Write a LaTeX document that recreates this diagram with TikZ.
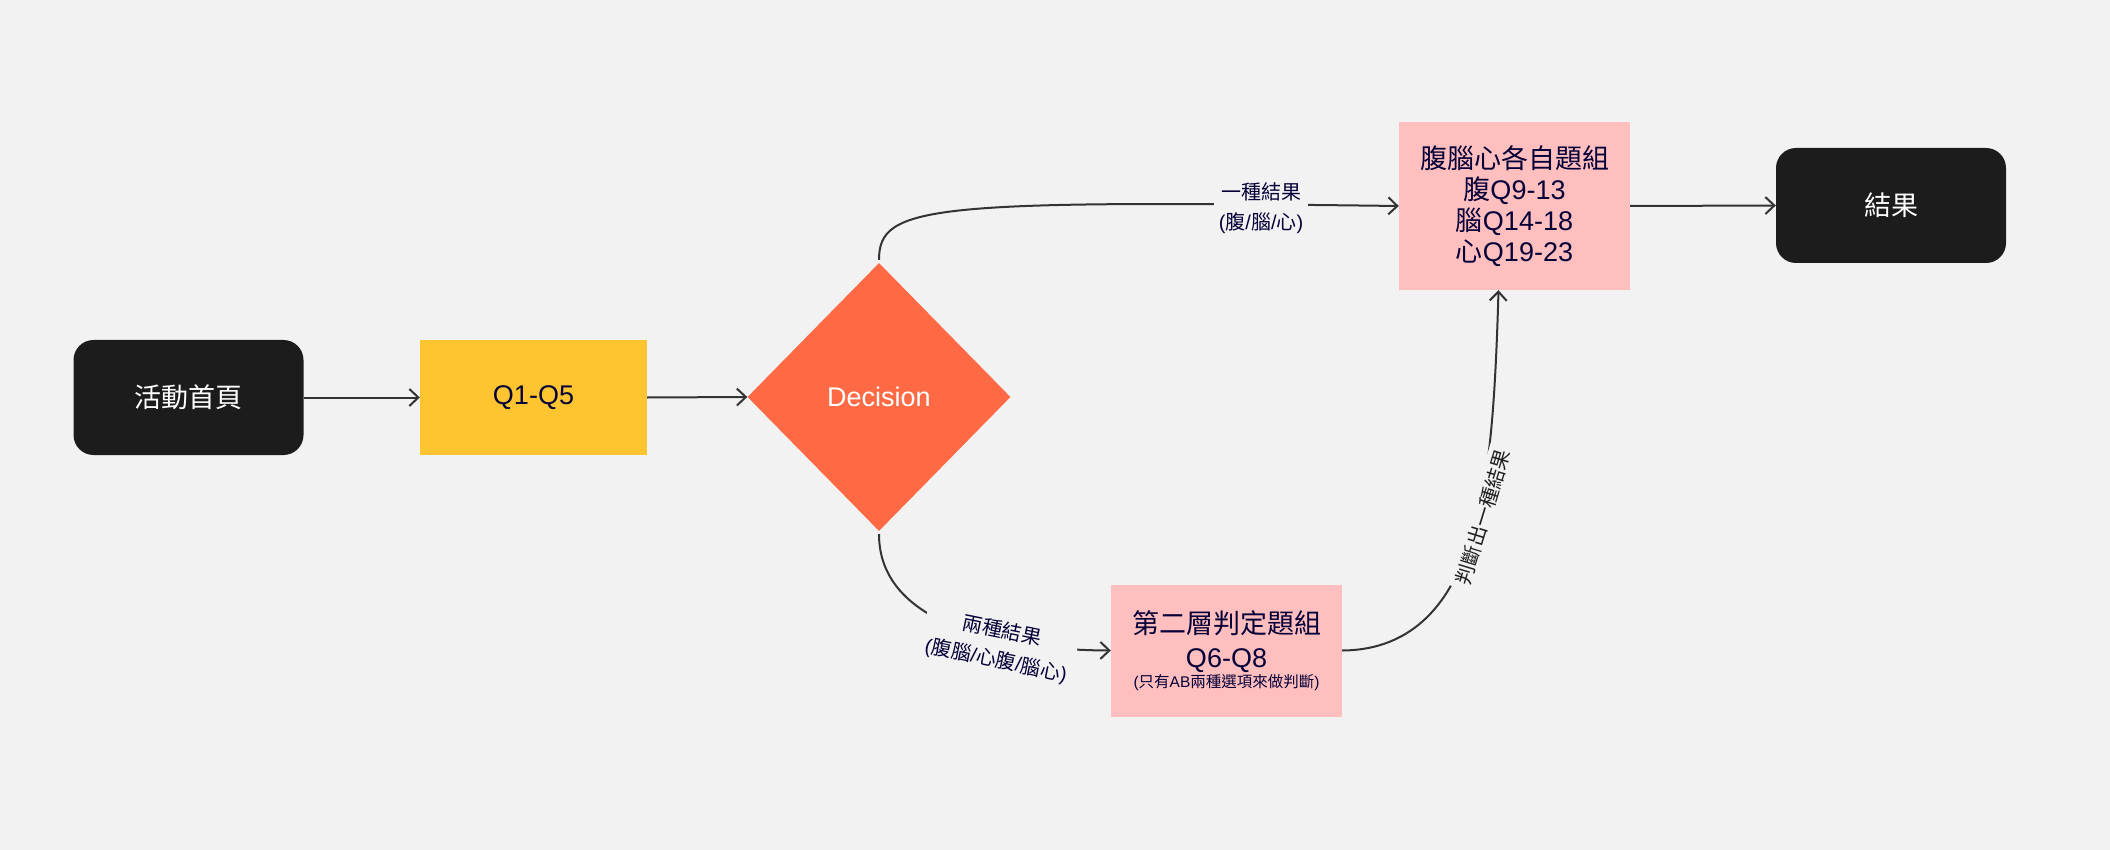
\documentclass[tikz,border=0pt]{standalone}
\usepackage{fontspec}
\setmainfont{Liberation Sans}
\newfontfamily\cjk{Noto Sans CJK TC}
\usetikzlibrary{shapes.geometric,arrows.meta}
\definecolor{bg}{HTML}{F2F2F2}
\definecolor{blkfill}{HTML}{1C1C1C}
\definecolor{ylwfill}{HTML}{FFC530}
\definecolor{orgfill}{HTML}{FF6A45}
\definecolor{pnkfill}{HTML}{FFBFBF}
\definecolor{navy}{HTML}{050038}
\definecolor{linec}{HTML}{333333}
\definecolor{darktext}{HTML}{1E1E1E}
\tikzset{
  boxbase/.style={inner sep=0pt, align=center, font=\fontsize{27}{31}\selectfont},
  blkbox/.style={boxbase, fill=blkfill, text=white, rounded corners=20pt, minimum width=230pt, minimum height=115pt},
  ylwbox/.style={boxbase, fill=ylwfill, text=navy, minimum width=227pt, minimum height=115pt},
  diabox/.style={boxbase, shape=diamond, aspect=1, fill=orgfill, text=white, minimum width=263pt, minimum height=268pt},
  pnkbox/.style={boxbase, fill=pnkfill, text=navy, minimum width=231pt},
  arr/.style={draw=linec, line width=2pt, -{Straight Barb[length=9pt,width=17pt,line width=2pt]}},
  lbl/.style={fill=bg, text=navy, align=center, inner sep=5pt, font=\fontsize{20}{30}\selectfont}
}
\begin{document}
\begin{tikzpicture}[x=1pt,y=-1pt]
\fill[bg] (0,0) rectangle (2110,850);
\useasboundingbox (0,0) rectangle (2110,850);

\node[blkbox] (start) at (188.5,397.5) {{\cjk 活動首頁}};
\node[ylwbox] (q15) at (533.5,397.5) {Q1-Q5};
\node[diabox] (dec) at (879,397) {Decision};
\node[pnkbox, minimum height=168pt] (r1) at (1514.5,206)
  {{\cjk 腹腦心各自題組}\\{\cjk 腹}Q9-13\\{\cjk 腦}Q14-18\\{\cjk 心}Q19-23};
\node[pnkbox, minimum height=132pt] (q68) at (1226.5,650.5)
  {{\cjk 第二層判定題組}\\[3pt]Q6-Q8\\[-11.5pt]{\fontsize{15.5}{18}\selectfont ({\cjk 只有}AB{\cjk 兩種選項來做判斷})}};
\node[blkbox] (res) at (1891,205.5) {{\cjk 結果}};

\draw[arr] (start.east) -- (q15.west);
\draw[arr] (q15.east) -- (dec.west);
\draw[arr] (r1.east) -- (res.west);

\draw[arr, shorten <=3pt] (dec.north) .. controls (879,205) and (930,200) .. (r1.west);
\node[lbl] (l1) at (1261,208) {{\cjk 一種結果}\\({\cjk 腹}/{\cjk 腦}/{\cjk 心})};

\draw[arr, shorten <=3pt] (dec.south) .. controls (879,620) and (990,650) .. (q68.west);
\node[lbl, rotate=-11.6] (l2) at (999,646) {{\cjk 兩種結果}\\({\cjk 腹腦}/{\cjk 心腹}/{\cjk 腦心})};

\coordinate (r1in) at ([xshift=-16pt]r1.south);
\draw[arr] (q68.east) .. controls (1415,650) and (1452,600) .. (1470,540)
  .. controls (1485,490) and (1494,450) .. (r1in);
\node[lbl, text=darktext, rotate=73] (l3) at (1483,517) {{\cjk 判斷出一種結果}};
\end{tikzpicture}
\end{document}
